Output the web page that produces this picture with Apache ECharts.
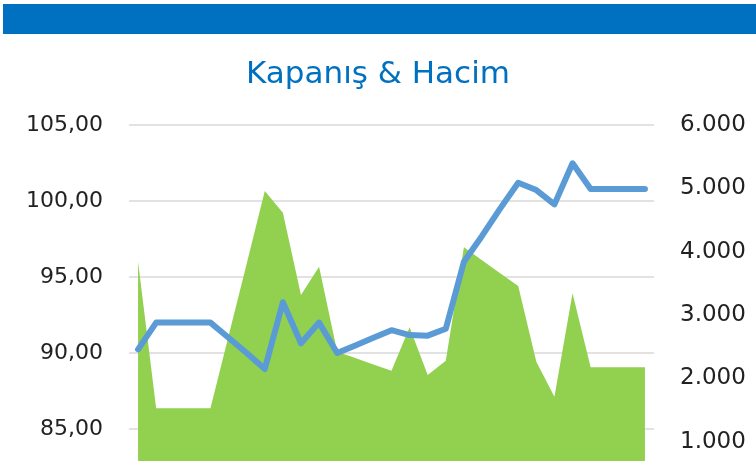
<!DOCTYPE html>
<html>
<head>
<meta charset="utf-8">
<script src="https://cdn.jsdelivr.net/npm/echarts@6/dist/echarts.min.js"></script>
<style>
html,body{margin:0;padding:0;background:#fff;overflow:hidden;}
#chart{width:756px;height:520px;}
</style>
</head>
<body>
<div id="chart"></div>
<script>
var categories = ["1","2","3","4","5","6","7","8","9","10","11","12","13","14","15","16","17","18","19","20","21","22","23","24","25","26","27","28","29"];
var closePrices = [90.24, 92.0, 92.0, 92.0, 92.0, 91.0, 90.0, 88.95, 93.34, 90.64, 92.0, 90.0, 90.5, 91.0, 91.5, 91.18, 91.14, 91.6, 96.0, 97.7, 99.5, 101.2, 100.72, 99.78, 102.48, 100.79, 100.79, 100.79, 100.79];
var volumes = [3842, 1527, 1527, 1527, 1527, 2670, 3810, 4958, 4616, 3316, 3763, 2421, 2320, 2220, 2121, 2806, 2053, 2279, 4069, 3865, 3660, 3458, 2263, 1711, 3342, 2174, 2174, 2174, 2174];
var leftTicks = {min: 80, max: 105, interval: 5};
var rightTicks = {min: 0, max: 6000, interval: 1000};
var titleText = "Kapanış & Hacim";

var chart = echarts.init(document.getElementById('chart'), null, {renderer: 'canvas'});
var font = "DejaVu Sans";
function fmtLeft(v){ return v.toFixed(2).replace('.', ','); }
function fmtRight(v){
  var s = String(Math.round(v));
  return s.replace(/\B(?=(\d{3})+(?!\d))/g, '.');
}
chart.setOption({
  animation: false,
  backgroundColor: '#fff',
  graphic: [{
    type: 'rect', left: 3, top: 4, z: 0,
    shape: {width: 753, height: 30},
    style: {fill: '#0070c0'}
  }],
  title: {
    text: titleText,
    left: 'center',
    top: 54,
    textStyle: {fontFamily: font, fontSize: 31, fontWeight: 'normal', color: '#0070c0'}
  },
  grid: {left: 129, right: 102, top: 125, height: 380, containLabel: false},
  xAxis: {
    type: 'category',
    data: categories,
    boundaryGap: true,
    axisLine: {show: false},
    axisTick: {show: false},
    axisLabel: {show: false}
  },
  yAxis: [{
    type: 'value',
    min: leftTicks.min, max: leftTicks.max, interval: leftTicks.interval,
    position: 'left',
    axisLine: {show: false}, axisTick: {show: false},
    axisLabel: {formatter: fmtLeft, fontFamily: font, fontSize: 22, color: '#222', margin: 26},
    splitLine: {lineStyle: {color: '#d9d9d9', width: 1.5}}
  }, {
    type: 'value',
    min: rightTicks.min, max: rightTicks.max, interval: rightTicks.interval,
    position: 'right',
    axisLine: {show: false}, axisTick: {show: false},
    axisLabel: {formatter: fmtRight, fontFamily: font, fontSize: 23, color: '#222', margin: 26},
    splitLine: {show: false}
  }],
  series: [{
    name: 'Hacim',
    type: 'line',
    yAxisIndex: 1,
    data: volumes,
    symbol: 'none',
    lineStyle: {width: 0},
    areaStyle: {color: '#92d050', opacity: 1},
    itemStyle: {color: '#92d050'},
    z: 2
  }, {
    name: 'Kapanış',
    type: 'line',
    yAxisIndex: 0,
    data: closePrices,
    symbol: 'none',
    lineStyle: {width: 6, color: '#5b9bd5', cap: 'round', join: 'round'},
    itemStyle: {color: '#5b9bd5'},
    z: 3
  }]
});
</script>
</body>
</html>
